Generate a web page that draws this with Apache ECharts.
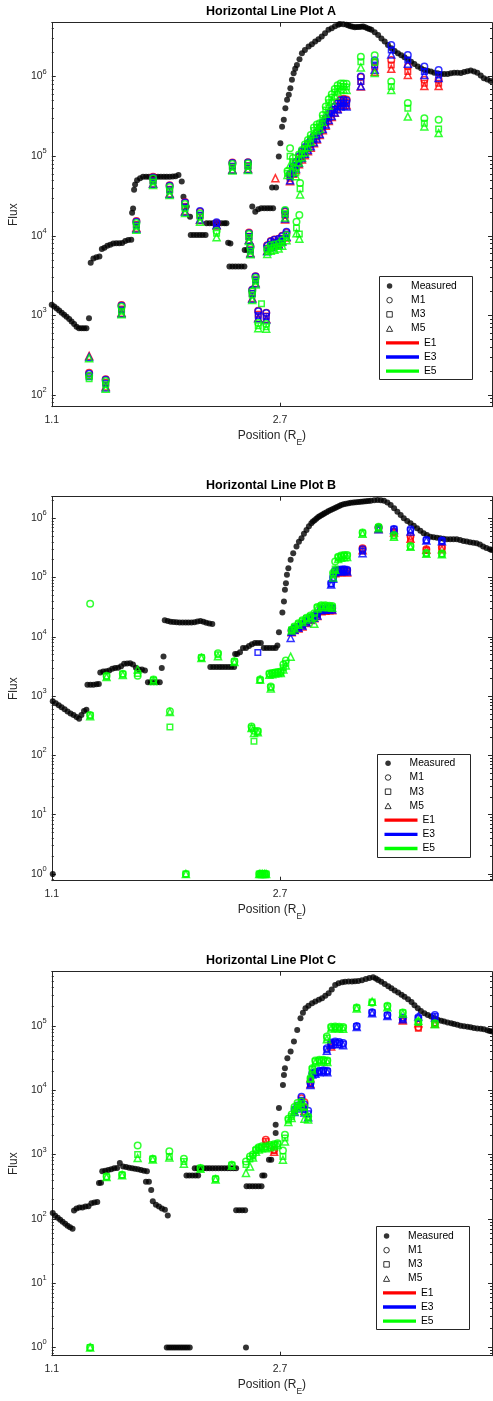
<!DOCTYPE html>
<html><head><meta charset="utf-8">
<script src="https://cdn.jsdelivr.net/npm/echarts@6/dist/echarts.min.js"></script>
<style>html,body{margin:0;padding:0;background:#fff}#c{width:493px;height:1401px}</style>
</head><body><div id="c"></div>
<script>
const _ = null;
const titles = ['Horizontal Line Plot A', 'Horizontal Line Plot B', 'Horizontal Line Plot C'];
const xTicks = [1.1, 2.7];
const legendNames = ['Measured', 'M1', 'M3', 'M5', 'E1', 'E3', 'E5'];

// ---------- Plot A ----------
const measuredA = [[1.100,1360],[1.117,1290],[1.135,1220],[1.152,1150],[1.170,1080],[1.187,1020],[1.204,960],[1.222,900],[1.239,840],[1.257,780],[1.274,720],[1.291,690],[1.309,690],[1.326,690],[1.343,690],[1.361,920],
[1.373,4600],[1.392,5200],[1.413,5380],[1.434,5500],[1.451,6800],[1.469,7100],[1.490,7500],[1.510,7700],[1.531,8000],[1.552,8070],[1.573,8070],[1.594,8100],[1.615,8600],[1.636,8870],[1.657,8900],
[1.663,19500],[1.670,22000],[1.677,38000],[1.684,44000],[1.698,50000],[1.719,53000],[1.740,55000],[1.761,55000],[1.781,55000],[1.802,55000],[1.823,55000],[1.844,55000],[1.865,55000],[1.886,55000],[1.906,55000],[1.927,55000],[1.948,55500],[1.968,56000],[1.988,58000],[2.011,48000],[2.023,31000],[2.046,23300],[2.069,17400],
[2.074,10260],[2.095,10260],[2.116,10260],[2.137,10260],[2.157,10260],[2.178,10260],
[2.185,14400],[2.206,14400],[2.227,14400],[2.248,14400],[2.269,14400],[2.290,14400],[2.310,14400],[2.324,14400],
[2.336,8200],[2.352,8000],
[2.345,4100],[2.366,4100],[2.387,4100],[2.408,4100],[2.429,4100],[2.450,4100],
[2.452,6650],[2.470,6650],
[2.505,23300],[2.526,20000],[2.547,21500],[2.568,22200],[2.589,22200],[2.610,22200],[2.630,22200],[2.651,22200],
[2.644,40300],[2.672,40300],
[2.691,98800],[2.702,145000],[2.714,235000],[2.726,286000],[2.737,401000],[2.749,510000],[2.761,589000],[2.772,714000],[2.783,910000],[2.795,1100000],[2.806,1250000],[2.818,1400000],[2.836,1650000],[2.853,1970000],[2.874,2150000],[2.900,2380000],[2.923,2550000],[2.946,2750000],[2.969,2950000],[2.992,3180000],[3.015,3500000],[3.039,3860000],[3.062,4060000],[3.085,4300000],[3.108,4470000],[3.119,4590000],[3.143,4550000],[3.166,4470000],[3.180,4380000],[3.194,4300000],[3.209,4230000],[3.224,4170000],[3.238,4180000],[3.253,4200000],[3.268,4230000],[3.282,4250000],[3.297,4150000],[3.312,4050000],[3.326,3950000],[3.340,3860000],[3.363,3600000],[3.387,3340000],[3.410,3000000],[3.433,2750000],[3.456,2500000],[3.479,2270000],[3.503,2100000],[3.526,1970000],[3.549,1850000],[3.572,1750000],[3.595,1640000],[3.618,1540000],[3.641,1440000],[3.665,1340000],[3.688,1270000],[3.711,1210000],[3.734,1180000],[3.757,1160000],[3.780,1120000],[3.804,1100000],[3.827,1080000],[3.850,1080000],[3.874,1080000],[3.897,1100000],[3.920,1120000],[3.943,1120000],[3.967,1110000],[3.990,1140000],[4.013,1170000],[4.036,1190000],[4.059,1160000],[4.082,1120000],[4.106,1030000],[4.128,955000],[4.152,920000],[4.175,880000],[4.189,865000]];

const A_x = [1.362,1.478,1.589,1.693,1.810,1.926,2.034,2.139,2.255,2.366,2.475,2.482,2.492,2.505,2.528,2.547,2.570,2.603,2.610,2.635,2.660,2.667,2.690,2.715,2.735,2.745,2.752,2.770,2.790,2.811,2.815,2.832,2.835,2.840,2.853,2.874,2.895,2.915,2.937,2.958,2.978,2.999,3.020,3.041,3.062,3.083,3.103,3.124,3.145,3.166,3.266,3.363,3.479,3.595,3.711,3.811];
const A_E1_M1 = [190,158,1350,15300,55000,43000,26500,20000,14500,83000,84000,11000,7400,2100,3100,1140,_,1080,7600,8600,9000,_,9200,10000,20000,11000,_,58000,72000,82000,_,96000,_,_,110000,125000,140000,155000,175000,195000,222000,255000,290000,330000,370000,420000,470000,515000,525000,515000,990000,1500000,1620000,1340000,910000,910000];
const A_E1_M3 = [175,145,1200,13900,50000,38500,23500,18000,14000,75000,76000,9900,6700,1900,2800,1030,_,980,7000,7900,8300,_,8500,9300,18000,10300,_,53000,65000,74000,_,87000,_,_,100000,113000,127000,141000,160000,178000,203000,233000,265000,300000,340000,385000,430000,475000,485000,475000,870000,1320000,1400000,1160000,826000,826000];
const A_E1_M5 = [310,128,1080,12600,45500,34000,20500,15800,13500,68000,69500,8900,6100,1650,2550,930,_,900,6500,7300,7700,53000,7900,8600,16000,9500,_,48500,60000,67000,_,79000,_,_,91000,103000,115000,128000,145000,162000,184000,212000,241000,276000,310000,350000,395000,435000,445000,435000,750000,1150000,1250000,1050000,760000,760000];
const A_E3_M1 = [185,155,1320,15000,54000,42400,26100,20500,14800,82000,83000,10800,7300,2090,3070,1130,_,1070,7500,8500,8900,_,9100,9900,20500,11200,_,60000,75000,85000,_,100000,_,_,115000,130000,145000,160000,180000,200000,230000,265000,300000,340000,380000,420000,460000,500000,510000,500000,1000000,1600000,2500000,1870000,1340000,1210000];
const A_E3_M3 = [170,140,1170,13600,49000,38000,23000,18300,14200,74500,75500,9800,6600,1880,2780,1000,_,970,6900,7800,8200,_,8400,9200,18500,10500,_,55000,68000,77000,_,90000,_,_,104000,118000,132000,146000,165000,183000,210000,242000,275000,310000,350000,390000,420000,460000,470000,460000,870000,1400000,2160000,1620000,1160000,1050000];
const A_E3_M5 = [300,124,1060,12300,45000,33600,20100,16000,13700,67300,68700,8870,6000,1620,2520,920,_,890,6400,7200,7600,_,7800,8500,16500,9700,_,50000,62000,70000,_,82000,_,_,95000,107000,120000,133000,150000,167000,190000,220000,250000,285000,320000,355000,385000,420000,430000,420000,760000,1220000,1900000,1450000,1050000,960000];
const A_E5_M1 = [175,150,1280,14500,52500,41000,25000,19000,11500,80000,81000,10500,7100,2000,2950,800,_,780,6800,7600,7800,_,8000,8800,21100,10200,65000,126000,95000,70000,15000,105000,18200,46000,120000,140000,160000,185000,230000,250000,260000,330000,420000,520000,600000,700000,780000,820000,820000,810000,1780000,1850000,866000,464000,300000,286000];
const A_E5_M3 = [160,135,1130,13200,47500,36500,22000,17200,10800,72500,74000,9500,6400,1800,2680,740,1400,720,6300,7000,7200,_,7400,8100,19000,9500,61000,100000,85000,62000,12500,92000,10500,39000,108000,125000,145000,168000,210000,230000,240000,300000,380000,470000,550000,640000,710000,750000,750000,740000,1540000,1500000,749000,401000,260000,220000];
const A_E5_M5 = [290,120,1030,11900,43500,32500,19300,15000,9600,66000,67000,8600,5850,1560,2450,690,_,680,5900,6500,6700,_,6900,7500,17000,8800,58000,77800,76000,56000,10800,83000,9200,33000,97000,112000,130000,152000,190000,210000,220000,270000,340000,430000,500000,580000,650000,690000,690000,680000,1300000,1110000,680000,314000,236000,195000];

// ---------- Plot B ----------
const measuredB = [[1.107,1],
[1.107,818],[1.128,760],[1.149,700],[1.169,650],[1.190,600],[1.211,550],[1.232,510],[1.253,480],[1.274,445],[1.292,415],[1.308,480],[1.326,560],[1.343,590],
[1.350,1560],[1.371,1560],[1.392,1560],[1.413,1580],[1.430,1600],
[1.440,2500],[1.461,2600],[1.482,2620],[1.503,2700],[1.524,2900],[1.544,2990],[1.565,3000],[1.586,3200],[1.607,3500],[1.628,3550],[1.649,3600],[1.669,3400],[1.690,3000],[1.711,2800],[1.732,2800],[1.753,2700],
[1.774,1710],[1.794,1710],[1.815,1710],[1.836,1710],[1.857,1710],
[1.871,2990],[1.883,4670],
[1.892,19000],[1.913,18500],[1.933,18000],[1.954,17800],[1.975,17600],[1.996,17500],[2.017,17400],[2.038,17400],[2.058,17500],[2.079,17500],[2.100,17700],[2.121,18200],[2.142,18500],[2.163,18000],[2.183,17300],[2.204,16800],[2.225,16500],
[2.211,3100],[2.232,3100],[2.253,3100],[2.274,3100],[2.294,3100],[2.315,3100],[2.336,3100],[2.357,3100],[2.378,3100],
[2.385,5130],[2.399,5130],[2.419,5500],[2.440,6470],[2.461,6470],[2.482,7000],[2.503,7500],[2.524,7860],[2.544,7860],[2.565,7860],[2.586,6500],[2.607,6470],[2.628,6470],[2.649,6470],[2.669,6500],[2.681,7150],[2.692,12000],[2.716,25800],[2.727,39400],[2.734,62100],[2.741,80500],[2.748,111000],[2.758,144000],[2.774,199000],[2.792,257000],[2.815,333000],[2.832,400000],[2.850,460000],[2.867,550000],[2.885,635000],[2.902,730000],[2.919,824000],[2.930,880000],[2.942,930000],[2.954,985000],[2.966,1040000],[2.977,1080000],[2.989,1120000],[3.001,1165000],[3.012,1210000],[3.026,1265000],[3.040,1320000],[3.055,1375000],[3.070,1430000],[3.085,1490000],[3.099,1550000],[3.114,1610000],[3.128,1670000],[3.145,1715000],[3.162,1760000],[3.180,1795000],[3.197,1830000],[3.215,1850000],[3.232,1870000],[3.250,1885000],[3.267,1900000],[3.284,1920000],[3.301,1940000],[3.318,1960000],[3.336,1980000],[3.360,2010000],[3.383,2030000],[3.406,2020000],[3.428,1980000],[3.452,1840000],[3.475,1670000],[3.499,1470000],[3.522,1290000],[3.545,1130000],[3.567,1000000],[3.591,900000],[3.614,824000],[3.637,750000],[3.660,680000],[3.683,615000],[3.706,559000],[3.729,520000],[3.753,490000],[3.776,478000],[3.799,471000],[3.822,460000],[3.845,450000],[3.869,442000],[3.892,442000],[3.915,442000],[3.938,442000],[3.961,430000],[3.985,415000],[4.008,404000],[4.031,395000],[4.054,385000],[4.077,379000],[4.100,360000],[4.123,333000],[4.146,315000],[4.170,300000],[4.183,292000]];

const B_x = [1.369,1.369,1.484,1.598,1.702,1.813,1.928,2.040,2.149,2.265,2.380,2.500,2.517,2.544,2.554,2.560,2.566,2.578,2.590,2.602,2.625,2.635,2.645,2.665,2.685,2.705,2.723,2.740,2.774,2.781,2.801,2.829,2.857,2.885,2.913,2.940,2.961,2.989,3.017,3.044,3.065,3.058,3.072,3.086,3.107,3.128,3.149,3.170,3.278,3.390,3.498,3.614,3.725,3.834];
const B_E1_M1 = [_,_,_,_,_,_,_,_,_,_,_,_,_,_,_,_,_,_,_,_,_,_,_,_,_,_,_,_,_,12500,13600,14600,16000,18500,20500,22500,24500,29000,29500,30000,30000,_,_,125000,130000,132000,133000,130000,313000,700000,600000,500000,300000,320000];
const B_E1_M3 = [_,_,_,_,_,_,_,_,_,_,_,_,_,_,_,_,_,_,_,_,_,_,_,_,_,_,_,_,_,12200,13300,14200,15500,17800,19800,21500,23500,28000,28500,29000,29000,_,_,122000,126000,128000,129000,126000,300000,680000,580000,460000,290000,313000];
const B_E1_M5 = [_,_,_,_,_,_,_,_,_,_,_,_,_,_,_,_,_,_,_,_,_,_,_,_,_,_,_,_,_,12000,13000,13800,15000,17200,19200,20500,22500,27000,27500,28000,28000,_,_,118000,122000,124000,125000,122000,290000,660000,573000,450000,293000,300000];
const B_E3_M1 = [_,_,_,_,_,_,_,_,_,_,_,_,_,_,_,_,_,_,_,_,_,_,_,_,_,_,_,_,_,12800,14000,15000,16500,19000,21000,23000,25000,30000,30500,31000,31000,80500,100000,130000,135000,137000,138000,135000,300000,690000,660000,650000,431000,420000];
const B_E3_M3 = [_,_,_,_,_,_,_,_,_,_,_,_,_,5460,_,_,_,_,_,_,_,_,_,_,_,_,_,_,_,12500,13600,14600,16000,18300,20300,22000,24000,29000,29500,30000,30000,78000,97000,127000,130000,132000,133000,130000,280000,670000,650000,620000,425000,415000];
const B_E3_M5 = [_,_,_,_,_,_,_,_,_,_,_,_,_,_,_,_,_,_,_,_,_,_,_,_,_,_,_,_,9550,12200,13200,14200,15500,17600,19600,21000,23000,28000,28500,29000,29000,76000,95000,123000,126000,128000,129000,126000,258000,650000,635000,600000,420000,410000];
const B_E5_M1 = [36000,480,2210,2390,2210,1900,555,1,4500,5300,3860,308,260,258,1,1900,1,1,1,1,2400,1460,2450,2500,2550,2600,3400,4000,_,13200,15000,17000,19000,21000,23000,25000,32000,34000,34000,33500,33000,_,120000,186000,225000,235000,240000,240000,573000,722000,520000,340000,260000,255000];
const B_E5_M3 = [_,470,2150,2330,2400,1850,303,1,4450,5000,3800,290,174,250,1,1850,1,1,1,1,2350,1400,2400,2450,2500,2500,3000,3600,_,13000,14500,16500,18400,20300,22000,21000,31000,33000,33000,32500,32000,_,110000,140000,215000,225000,230000,232000,560000,700000,500000,333000,255000,250000];
const B_E5_M5 = [_,460,2100,2280,2800,1800,540,1,4400,4700,3750,290,240,245,1,1900,1,1,1,1,2300,1350,2350,2400,2450,2450,2800,3300,4630,12800,14000,16000,17800,19600,21000,16600,30000,32000,32000,31500,31000,_,100000,135000,205000,215000,220000,222000,550000,680000,490000,330000,251000,248000];

// ---------- Plot C ----------
const measuredC = [[1.107,123],[1.124,112],[1.142,104],[1.159,97],[1.176,90],[1.194,84],[1.211,78],[1.228,74],[1.246,70],
[1.256,135],[1.274,145],[1.294,150],[1.315,150],[1.336,155],[1.357,157],
[1.378,175],[1.399,180],[1.419,183],
[1.431,361],[1.445,365],
[1.454,547],[1.475,560],[1.496,575],[1.517,590],[1.538,610],[1.558,617],[1.577,738],[1.600,650],[1.621,640],[1.642,620],[1.663,610],[1.683,600],[1.704,590],[1.725,575],[1.746,560],[1.767,547],
[1.760,378],[1.781,378],[1.797,280],[1.808,187],[1.830,166],[1.851,156],[1.872,145],[1.893,138],[1.913,113],
[1.906,1],[1.922,1],[1.938,1],[1.954,1],[1.970,1],[1.986,1],[2.002,1],[2.018,1],[2.034,1],[2.050,1],[2.067,1],
[2.044,473],[2.064,473],[2.085,473],[2.106,473],[2.126,473],
[2.102,610],[2.123,610],[2.144,610],[2.165,610],[2.186,610],[2.206,610],[2.227,610],[2.248,610],[2.269,610],[2.290,610],[2.311,610],[2.332,610],[2.353,610],[2.374,610],[2.392,610],
[2.392,136],[2.413,136],[2.434,136],[2.455,136],
[2.461,1],
[2.465,320],[2.486,320],[2.507,320],[2.528,320],[2.549,320],[2.570,320],
[2.575,473],[2.590,473],
[2.622,830],[2.638,830],
[2.669,2160],[2.669,2900],[2.692,5270],[2.720,12100],[2.727,17300],[2.734,22000],[2.751,31500],[2.774,39900],[2.797,57000],[2.820,86700],[2.843,132000],[2.860,160000],[2.878,188000],[2.899,205000],[2.924,225000],[2.947,240000],[2.972,255000],[2.994,269000],[3.017,295000],[3.040,322000],[3.062,370000],[3.086,433000],[3.110,460000],[3.135,478000],[3.156,488000],[3.180,490000],[3.204,492000],[3.225,495000],[3.248,500000],[3.274,515000],[3.301,535000],[3.326,555000],[3.352,570000],[3.371,545000],[3.387,518000],[3.409,485000],[3.433,450000],[3.458,415000],[3.480,385000],[3.503,355000],[3.527,330000],[3.551,305000],[3.572,285000],[3.597,260000],[3.621,235000],[3.642,210000],[3.665,188000],[3.687,170000],[3.711,158000],[3.735,148000],[3.758,140000],[3.781,132000],[3.805,125000],[3.829,120000],[3.850,117000],[3.874,113000],[3.899,110000],[3.919,107000],[3.942,104000],[3.965,101000],[3.989,99000],[4.013,97000],[4.035,95400],[4.058,93000],[4.082,91000],[4.106,90000],[4.128,88800],[4.152,86000],[4.169,83500],[4.185,81700]];

const C_x = [1.369,1.484,1.593,1.702,1.808,1.924,2.026,2.142,2.248,2.362,2.461,2.489,2.510,2.531,2.551,2.572,2.600,2.628,2.658,2.683,2.720,2.734,2.758,2.781,2.801,2.822,2.850,2.871,2.897,2.913,2.926,2.947,2.975,3.003,3.031,3.028,3.058,3.086,3.114,3.142,3.237,3.345,3.452,3.560,3.669,3.785];
const C_E1_M1 = [_,_,_,_,_,_,_,_,_,_,_,_,_,_,_,_,1700,_,1190,_,_,_,_,_,_,_,7500,6500,_,13500,_,_,_,_,_,_,52000,_,_,_,_,_,_,127000,95400,113000];
const C_E1_M3 = [_,_,_,_,_,_,_,_,_,_,_,_,_,_,_,_,1600,_,1150,_,_,_,_,_,_,_,6800,5500,_,13000,_,_,_,_,_,_,50000,_,_,_,_,_,_,124000,92000,110000];
const C_E1_M5 = [_,_,_,_,_,_,_,_,_,_,_,_,_,_,_,_,1500,_,1100,_,_,_,_,_,_,_,6200,4800,_,12500,_,_,_,_,_,_,48000,_,_,_,_,_,_,121000,110000,108000];
const C_E3_M1 = [_,_,_,_,_,_,_,_,_,_,_,_,_,_,_,_,_,_,_,_,_,_,_,_,5000,5800,7900,6000,4800,12900,18400,19000,20000,20500,20000,45100,55000,57000,56000,54000,100000,163000,148000,135000,136000,148000];
const C_E3_M3 = [_,_,_,_,_,_,_,_,_,_,_,_,_,_,_,_,_,_,_,_,_,_,_,_,4800,5500,7000,5000,4300,12500,18000,18500,19500,20000,19500,43000,53000,55000,54000,52000,98000,160000,145000,130000,130000,140000];
const C_E3_M5 = [_,_,_,_,_,_,_,_,_,_,_,_,_,_,_,_,_,_,_,_,_,_,_,_,4600,5200,6500,4500,3800,12000,17500,18000,19000,19500,19000,41000,51000,53000,52000,50000,96000,157000,143000,127000,140000,135000];
const C_E5_M1 = [1,457,485,1380,861,1120,861,617,421,695,782,935,1000,1200,1300,1340,1340,1400,1450,1500,1150,2030,3600,4200,5500,6300,6700,5500,3900,15400,22000,29000,29700,29700,29000,68200,97000,98000,97000,96000,193000,230000,205000,161000,117000,110000];
const C_E5_M3 = [1,450,480,1000,850,935,780,610,415,680,700,850,950,1150,1250,1300,1300,1350,1400,1450,935,1800,3400,3900,5000,5800,6200,4500,3700,14800,21000,28000,29000,29000,28500,65000,94000,95000,94000,93000,190000,235000,200000,160000,113000,108000];
const C_E5_M5 = [1,445,475,881,840,900,720,600,410,670,516,653,900,1100,1200,1250,1250,1300,1350,1400,830,1600,3200,3700,4700,5400,5800,3600,3500,15400,20500,27000,28000,28000,27500,62000,91000,92000,91000,90000,187000,238000,195000,155000,120000,106000];

// ---------- assembly ----------
const panels = [
  {measured: measuredA, x: A_x, v: {E1: [A_E1_M1, A_E1_M3, A_E1_M5], E3: [A_E3_M1, A_E3_M3, A_E3_M5], E5: [A_E5_M1, A_E5_M3, A_E5_M5]}},
  {measured: measuredB, x: B_x, v: {E1: [B_E1_M1, B_E1_M3, B_E1_M5], E3: [B_E3_M1, B_E3_M3, B_E3_M5], E5: [B_E5_M1, B_E5_M3, B_E5_M5]}},
  {measured: measuredC, x: C_x, v: {E1: [C_E1_M1, C_E1_M3, C_E1_M5], E3: [C_E3_M1, C_E3_M3, C_E3_M5], E5: [C_E5_M1, C_E5_M3, C_E5_M5]}}
];
const layout = [
  {top: 22.7, yMin: 71.3, yMax: 4.75e6, titleTop: 5, legRow1: 286, legLeft: 386, box: [379.5, 276.5, 93, 103]},
  {top: 496.7, yMin: 0.771, yMax: 2.31e6, titleTop: 479, legRow1: 763.3, legLeft: 384.5, box: [377.5, 754.5, 93, 103]},
  {top: 971.7, yMin: 0.743, yMax: 6.97e5, titleTop: 954, legRow1: 1236, legLeft: 383, box: [376.5, 1226.5, 93, 103]}
];
const FONT = '"Liberation Sans", Arial, Helvetica, sans-serif';
const AX = '#262626';
const X_MIN = 1.1, X_MAX = 4.185;
const GRID_LEFT = 48, GRID_W = 444, GRID_H = 384;
const ROW = 14.2;
const eStyles = [['E1', '#ff0000'], ['E3', '#0000ff'], ['E5', '#00ff00']];
const mStyles = [['M1', 'circle', 6.5], ['M3', 'rect', 5.5], ['M5', 'triangle', 7]];

function majorVals(min, max) { const v = []; for (let k = Math.ceil(Math.log10(min)); Math.pow(10, k) <= max; k++) v.push(Math.pow(10, k)); return v; }
function minorVals(min, max) { const v = []; for (let k = Math.floor(Math.log10(min)); k <= Math.ceil(Math.log10(max)); k++) { for (let m = 2; m <= 9; m++) { const t = m * Math.pow(10, k); if (t > min && t < max) v.push(t); } } return v; }

const option = {animation: false, backgroundColor: '#fff', textStyle: {fontFamily: FONT}, grid: [], xAxis: [], yAxis: [], series: [], legend: [], title: [], graphic: {elements: []}};

layout.forEach((L, i) => {
  const maj = majorVals(L.yMin, L.yMax), mnr = minorVals(L.yMin, L.yMax);
  option.grid.push({left: GRID_LEFT, top: L.top, width: GRID_W, height: GRID_H});
  option.title.push({text: titles[i], left: 271, top: L.titleTop, textAlign: 'center', padding: 0,
    textStyle: {fontSize: 12.5, fontWeight: 'bold', color: '#000', fontFamily: FONT}});
  option.xAxis.push({type: 'value', gridIndex: i, min: X_MIN, max: X_MAX, position: 'bottom',
    axisLine: {show: true, lineStyle: {color: AX, width: 1}},
    axisTick: {show: true, inside: true, length: 4, customValues: xTicks, lineStyle: {color: AX}},
    axisLabel: {show: true, customValues: xTicks, formatter: v => v.toFixed(1), color: AX, fontSize: 10.5, margin: 8, fontFamily: FONT},
    splitLine: {show: false},
    name: '{a|Position (R}{s|E}{a|)}', nameLocation: 'middle', nameGap: 23,
    nameTextStyle: {color: AX, fontFamily: FONT, rich: {
      a: {fontSize: 12, lineHeight: 14, verticalAlign: 'top', color: AX, fontFamily: FONT},
      s: {fontSize: 8.5, lineHeight: 17, verticalAlign: 'bottom', color: AX, fontFamily: FONT}}}});
  option.xAxis.push({type: 'value', gridIndex: i, min: X_MIN, max: X_MAX, position: 'top',
    axisLine: {show: true, lineStyle: {color: AX, width: 1}},
    axisTick: {show: true, inside: true, length: 4, customValues: [2.7], lineStyle: {color: AX}},
    axisLabel: {show: false}, splitLine: {show: false}});
  const yBase = {type: 'log', logBase: 10, gridIndex: i, min: L.yMin, max: L.yMax, splitLine: {show: false}};
  option.yAxis.push(Object.assign({}, yBase, {position: 'left',
    axisLine: {show: true, lineStyle: {color: AX, width: 1}},
    axisTick: {show: true, inside: true, length: 4, customValues: maj, lineStyle: {color: AX}},
    axisLabel: {show: true, customValues: maj, margin: 5,
      formatter: v => '{b|10}{s|' + Math.round(Math.log10(v)) + '}',
      rich: {b: {fontSize: 10.5, lineHeight: 18, verticalAlign: 'middle', color: AX, fontFamily: FONT},
             s: {fontSize: 7.5, lineHeight: 9, verticalAlign: 'top', color: AX, fontFamily: FONT}}},
    name: 'Flux', nameLocation: 'middle', nameGap: 28, nameTextStyle: {fontSize: 12, color: AX, fontFamily: FONT}}));
  option.yAxis.push(Object.assign({}, yBase, {position: 'left', axisLine: {show: false},
    axisTick: {show: true, inside: true, length: 2, customValues: mnr, lineStyle: {color: AX}}, axisLabel: {show: false}}));
  option.yAxis.push(Object.assign({}, yBase, {position: 'right',
    axisLine: {show: true, lineStyle: {color: AX, width: 1}},
    axisTick: {show: true, inside: true, length: 4, customValues: maj, lineStyle: {color: AX}}, axisLabel: {show: false}}));
  option.yAxis.push(Object.assign({}, yBase, {position: 'right', axisLine: {show: false},
    axisTick: {show: true, inside: true, length: 2, customValues: mnr, lineStyle: {color: AX}}, axisLabel: {show: false}}));

  const P = panels[i];
  option.series.push({type: 'scatter', name: 'Measured', xAxisIndex: 2 * i, yAxisIndex: 4 * i, data: P.measured,
    symbol: 'circle', symbolSize: 6, itemStyle: {color: '#000'}, silent: true});
  eStyles.forEach(([eName, col]) => {
    mStyles.forEach(([mName, sym, size], mi) => {
      const vals = P.v[eName][mi];
      const data = [];
      P.x.forEach((xv, k) => { if (vals[k] != null) data.push([xv, vals[k]]); });
      option.series.push({type: 'scatter', name: eName + ' ' + mName, xAxisIndex: 2 * i, yAxisIndex: 4 * i, data,
        symbol: sym, symbolSize: size, silent: true,
        itemStyle: {color: 'rgba(0,0,0,0)', borderColor: col, borderWidth: 1.5}});
    });
  });

  // legends
  option.legend.push({orient: 'vertical', left: L.legLeft, top: L.legRow1 - ROW / 2, padding: 0, itemGap: 0,
    itemWidth: 33, itemHeight: 5.5, selectedMode: false, z: 5,
    textStyle: {fontSize: 10.3, lineHeight: ROW, color: '#000', fontFamily: FONT},
    data: [
      {name: 'Measured', icon: 'circle', itemStyle: {color: '#000', borderWidth: 0}},
      {name: 'M1', icon: 'circle', itemStyle: {color: 'rgba(0,0,0,0)', borderColor: '#000', borderWidth: 1}},
      {name: 'M3', icon: 'path://M0,0L10,0L10,10L0,10Z', itemStyle: {color: 'rgba(0,0,0,0)', borderColor: '#000', borderWidth: 1}},
      {name: 'M5', icon: 'path://M5,0L10,9L0,9Z', itemStyle: {color: 'rgba(0,0,0,0)', borderColor: '#000', borderWidth: 1}}
    ]});
  option.legend.push({orient: 'vertical', left: L.legLeft, top: L.legRow1 + 4 * ROW - ROW / 2, padding: 0, itemGap: 0,
    itemWidth: 33, itemHeight: 3.3, selectedMode: false, z: 5,
    textStyle: {fontSize: 10.3, lineHeight: ROW, color: '#000', fontFamily: FONT},
    data: eStyles.map(([n, c]) => ({name: n, icon: 'rect', itemStyle: {color: c, borderColor: c, borderWidth: 0}}))});
  option.graphic.elements.push({type: 'rect', z: 3, silent: true,
    shape: {x: L.box[0], y: L.box[1], width: L.box[2], height: L.box[3]},
    style: {fill: '#fff', stroke: AX, lineWidth: 1}});
});

// legend-only placeholder series
['M1', 'M3', 'M5'].forEach(n => option.series.push({type: 'scatter', name: n, data: [], xAxisIndex: 0, yAxisIndex: 0}));
eStyles.forEach(([n, c]) => option.series.push({type: 'line', name: n, data: [], xAxisIndex: 0, yAxisIndex: 0, itemStyle: {color: c}, lineStyle: {color: c}}));

const chart = echarts.init(document.getElementById('c'), null, {renderer: 'canvas'});
chart.setOption(option);
</script></body></html>
